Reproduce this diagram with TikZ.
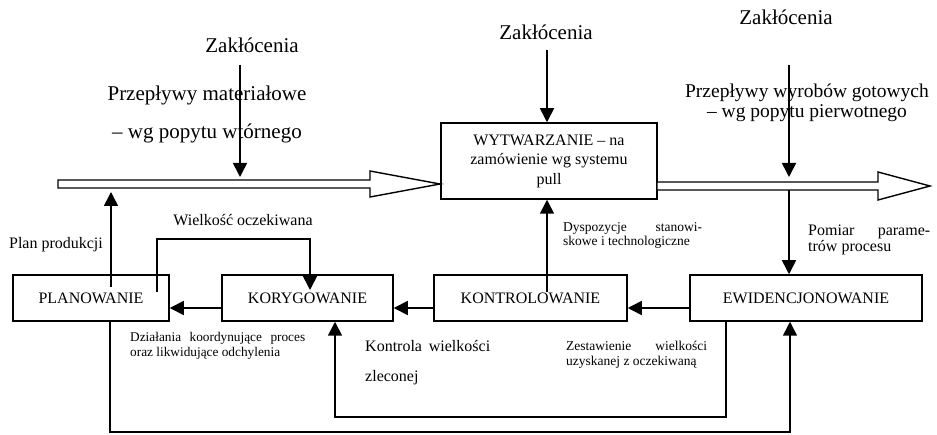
\documentclass[tikz,border=0pt]{standalone}
\usepackage{fontspec}
\setmainfont{Liberation Serif}
\usetikzlibrary{arrows.meta}
\begin{document}
\begin{tikzpicture}[x=1pt,y=-1pt,
  box/.style={draw,line width=1.5pt,inner sep=0pt,font=\fontsize{16}{19.5}\selectfont,align=center},
  big/.style={inner sep=0pt,font=\fontsize{21}{25}\selectfont,align=center},
  lbl/.style={inner sep=0pt,align=left,anchor=west},
  arr/.style={line width=1.6pt,-{Triangle[length=14pt,width=14pt]}},
  ln/.style={line width=1.6pt},
  hollow/.style={draw,line width=1.4pt,fill=white,line join=miter}]
\useasboundingbox (0,0) rectangle (937,435);
% texts at top
\node[big] (z1) at (252,45) {Zakłócenia};
\node[big] (z2) at (546,32) {Zakłócenia};
\node[big] (z3) at (786,17) {Zakłócenia};
\node[inner sep=0pt,align=center,font=\fontsize{21}{38}\selectfont] (f1) at (207,114) {Przepływy materiałowe\\– wg popytu wtórnego};
\node[inner sep=0pt,align=center,font=\fontsize{19.5}{20}\selectfont] (f2) at (807,103) {Przepływy wyrobów gotowych\\– wg popytu pierwotnego};
% boxes
\node[box,minimum width=216pt,minimum height=76pt] (wyt) at (549,161) {WYTWARZANIE – na\\zamówienie wg systemu\\pull};
\node[box,minimum width=156pt,minimum height=46pt] (plan) at (91,298) {PLANOWANIE};
\node[box,minimum width=171pt,minimum height=46pt] (koryg) at (307.5,298) {KORYGOWANIE};
\node[box,minimum width=193pt,minimum height=46pt] (kontr) at (530.5,298) {KONTROLOWANIE};
\node[box,minimum width=232pt,minimum height=46pt] (ewid) at (806,298) {EWIDENCJONOWANIE};
% hollow flow arrows
\draw[hollow] (58,180) -- (370,180) -- (370,171) -- (440,184) -- (370,197) -- (370,188) -- (58,188) -- cycle;
\draw[hollow] (657,182) -- (878,182) -- (878,172) -- (930,186) -- (878,200) -- (878,190) -- (657,190) -- cycle;
% labels
\node[inner sep=0pt,font=\fontsize{16}{19}\selectfont] (pp) at (56,245) {Plan produkcji};
\node[inner sep=0pt,font=\fontsize{16}{19}\selectfont] (wo) at (243,220) {Wielkość oczekiwana};
\node[lbl,font=\fontsize{13.5}{14}\selectfont] (dy) at (563,235) {\hbox to 139pt{Dyspozycje\hfill stanowi-}\\skowe i technologiczne};
\node[lbl,font=\fontsize{13.3}{15}\selectfont] (dz) at (130,345.5) {\hbox to 175pt{Działania\hfill koordynujące\hfill proces}\\oraz likwidujące odchylenia};
\node[lbl,font=\fontsize{16}{30}\selectfont] (kw) at (365,363) {\hbox to 125pt{Kontrola\hfill wielkości}\\zleconej};
\node[lbl,font=\fontsize{13.5}{15}\selectfont] (ze) at (566,354.5) {\hbox to 141pt{Zestawienie\hfill wielkości}\\uzyskanej z oczekiwaną};
\node[lbl,font=\fontsize{16}{16}\selectfont] (po) at (808,240) {\hbox to 122pt{Pomiar\hfill parame-}\\trów procesu};
% coordinates
\coordinate (za1) at (240,65);
\coordinate (za1e) at (240,177);
\coordinate (za2) at (547,50);
\coordinate (za3) at (789,65);
\coordinate (za3e) at (789,177);
\coordinate (sh2) at (789,190);
\coordinate (pl1) at (111,287);
\coordinate (pl1e) at (111,192);
\coordinate (wo1) at (157,292);
\coordinate (wo2) at (157,239);
\coordinate (wo3) at (310,239);
\coordinate (wo4) at (310,290);
\coordinate (ku) at (547,292);
% disturbance arrows
\draw[arr] (za1) -- (za1e);
\draw[arr] (za2) -- (za2 |- wyt.north);
\draw[arr] (za3) -- (za3e);
% feedback arrows
\draw[arr] (pl1) -- (pl1e);
\draw[arr] (wo1) -- (wo2) -- (wo3) -- (wo4);
\draw[arr] (ku) -- (ku |- wyt.south);
\draw[arr] (sh2) -- (sh2 |- ewid.north);
\draw[arr] ([yshift=-10pt]koryg.west) -- ([yshift=-10pt]plan.east);
\draw[arr] ([yshift=-10pt]kontr.west) -- ([yshift=-10pt]koryg.east);
\draw[arr] ([yshift=-10pt]ewid.west) -- ([yshift=-10pt]kontr.east);
\draw[arr] (726,0 |- ewid.south) -- (726,417) -- (335,417) -- (335,0 |- koryg.south);
\draw[arr] (110,0 |- plan.south) -- (110,432) -- (790,432) -- (790,0 |- ewid.south);
\end{tikzpicture}
\end{document}
